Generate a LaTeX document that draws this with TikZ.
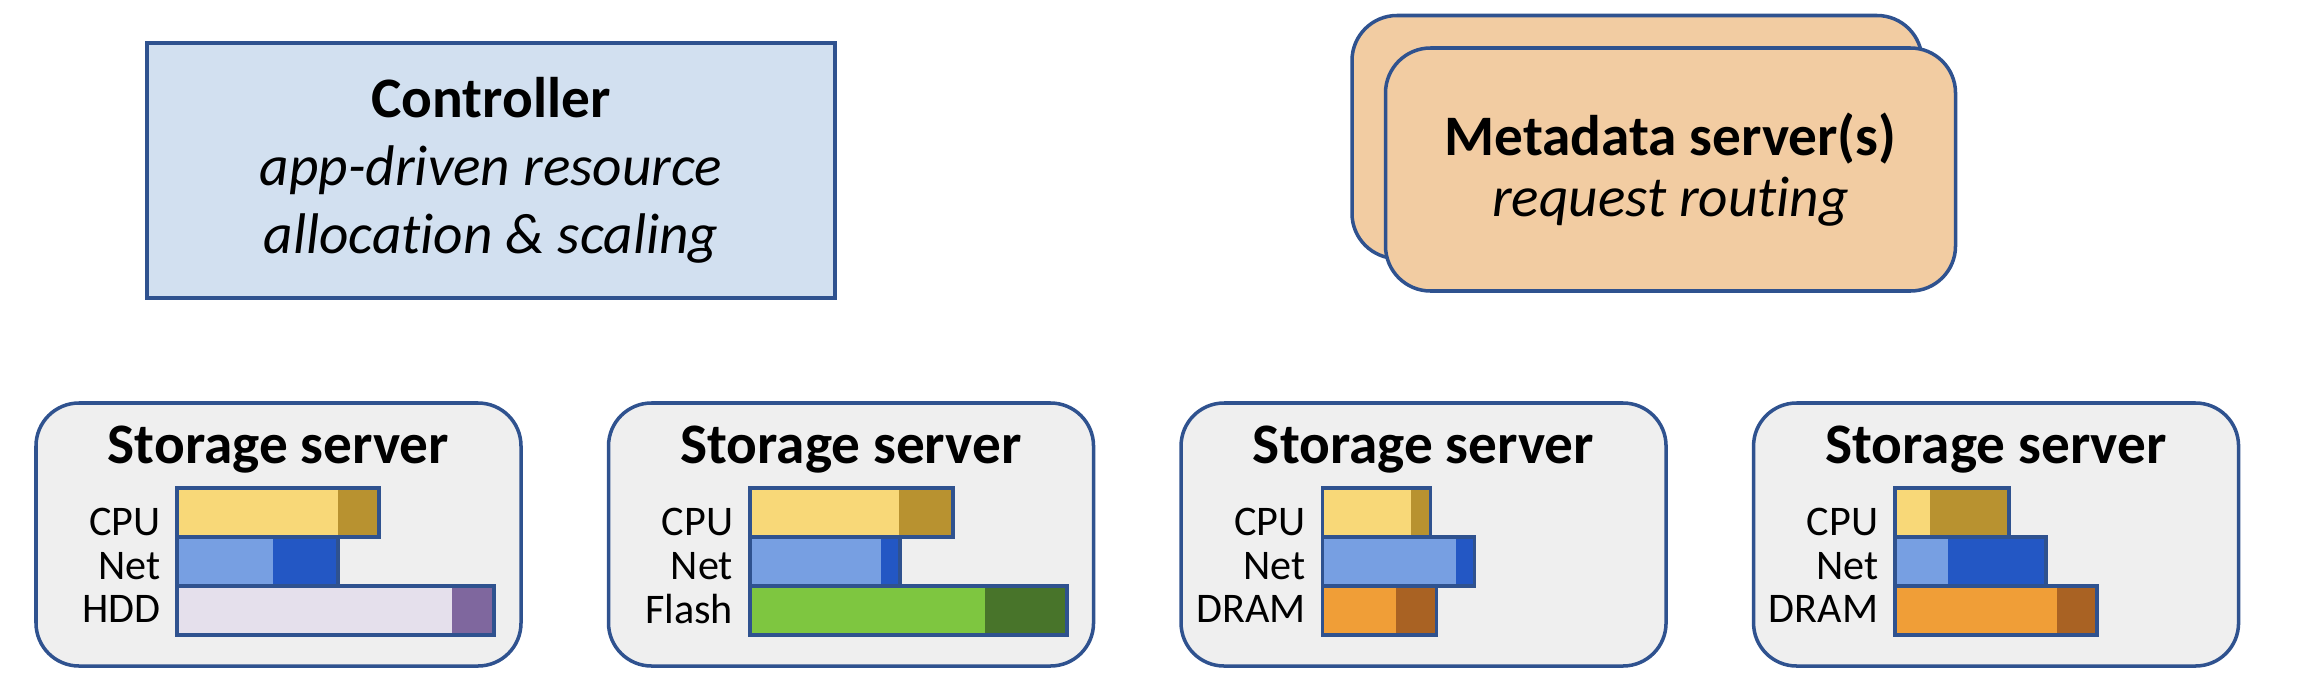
\documentclass[tikz,border=0pt]{standalone}
\usepackage{fontspec}
\setmainfont{Carlito}[Ligatures=NoCommon]
\usepackage{tikz}
\usetikzlibrary{positioning}
\definecolor{borderblue}{RGB}{47,82,143}
\definecolor{ctrlblue}{RGB}{210,224,240}
\definecolor{metapeach}{RGB}{242,204,162}
\definecolor{srvgray}{RGB}{239,239,239}
\definecolor{cpulight}{RGB}{248,216,120}
\definecolor{cpudark}{RGB}{184,146,48}
\definecolor{netlight}{RGB}{119,159,226}
\definecolor{netdark}{RGB}{35,87,196}
\definecolor{hddlight}{RGB}{229,224,236}
\definecolor{hdddark}{RGB}{127,103,158}
\definecolor{flashlight}{RGB}{126,198,64}
\definecolor{flashdark}{RGB}{72,116,42}
\definecolor{dramlight}{RGB}{240,158,55}
\definecolor{dramdark}{RGB}{169,98,35}

\begin{document}
\begin{tikzpicture}[
    node distance=0.84cm,
    every node/.style={font=\fontsize{16.3}{19.4}\selectfont},
    ctrlbox/.style={
        rectangle,
        draw=borderblue,
        line width=1pt,
        fill=ctrlblue,
        align=center,
        inner sep=0pt,
        minimum width=6.88cm,
        minimum height=2.55cm
    },
    metabox/.style={
        rectangle,
        rounded corners=0.45cm,
        draw=borderblue,
        line width=1pt,
        fill=metapeach,
        align=center,
        inner sep=0pt,
        minimum width=5.7cm,
        minimum height=2.43cm,
        font=\fontsize{16.3}{17.2}\selectfont
    },
    srvbox/.style={
        rectangle,
        rounded corners=0.43cm,
        draw=borderblue,
        line width=1pt,
        fill=srvgray,
        minimum width=4.85cm,
        minimum height=2.63cm
    },
    srvtitle/.style={anchor=base, font=\fontsize{16.3}{19.4}\selectfont\bfseries},
    barlabel/.style={anchor=east, inner sep=0pt, font=\fontsize{12}{13}\selectfont},
    resbar/.style n args={3}{
        rectangle,
        draw=borderblue,
        line width=1pt,
        fill=#1,
        inner sep=0pt,
        outer sep=0pt,
        minimum height=0.49cm,
        anchor=north west,
        path picture={\fill[#2] ([xshift=-#3 cm]path picture bounding box.north east) rectangle (path picture bounding box.south east);}
    }
]
\useasboundingbox (0,0) rectangle (23.1,6.92);

% top row
\node[ctrlbox] (ctrl) at (4.91,5.215) {\textbf{Controller}\\\textit{app-driven resource}\\\textit{allocation \& scaling}};
\node[metabox] (mdback) at (16.37,5.55) {};
\node[metabox] (md) at (16.705,5.225) {\textbf{Metadata server(s)}\\\textit{request routing}};

% storage servers
\node[srvbox] (srv1) at (2.785,1.575) {};
\node[srvbox, right=of srv1] (srv2) {};
\node[srvbox, right=of srv2] (srv3) {};
\node[srvbox, right=of srv3] (srv4) {};

\node[srvtitle] (title1) at ([yshift=-0.62cm]srv1.north) {Storage server};
\node[srvtitle] (title2) at ([yshift=-0.62cm]srv2.north) {Storage server};
\node[srvtitle] (title3) at ([yshift=-0.62cm]srv3.north) {Storage server};
\node[srvtitle] (title4) at ([yshift=-0.62cm]srv4.north) {Storage server};

% server 1: HDD
\node[resbar={cpulight}{cpudark}{0.41}, minimum width=2.02cm] (cpu1) at ([shift={(1.43,-0.87)}]srv1.north west) {};
\node[resbar={netlight}{netdark}{0.65}, minimum width=1.61cm] (net1) at (cpu1.south west) {};
\node[resbar={hddlight}{hdddark}{0.42}, minimum width=3.17cm] (disk1) at (net1.south west) {};
\node[barlabel, left=0.16cm of cpu1, yshift=-0.09cm] (cpulab1) {CPU};
\node[barlabel, left=0.16cm of net1, yshift=-0.04cm] (netlab1) {Net};
\node[barlabel, left=0.16cm of disk1, yshift=0.02cm] (disklab1) {HDD};

% server 2: Flash
\node[resbar={cpulight}{cpudark}{0.54}, minimum width=2.03cm] (cpu2) at ([shift={(1.43,-0.87)}]srv2.north west) {};
\node[resbar={netlight}{netdark}{0.19}, minimum width=1.50cm] (net2) at (cpu2.south west) {};
\node[resbar={flashlight}{flashdark}{0.82}, minimum width=3.17cm] (disk2) at (net2.south west) {};
\node[barlabel, left=0.16cm of cpu2, yshift=-0.09cm] (cpulab2) {CPU};
\node[barlabel, left=0.16cm of net2, yshift=-0.04cm] (netlab2) {Net};
\node[barlabel, left=0.16cm of disk2, yshift=0.02cm] (disklab2) {Flash};

% server 3: DRAM
\node[resbar={cpulight}{cpudark}{0.19}, minimum width=1.08cm] (cpu3) at ([shift={(1.43,-0.87)}]srv3.north west) {};
\node[resbar={netlight}{netdark}{0.18}, minimum width=1.52cm] (net3) at (cpu3.south west) {};
\node[resbar={dramlight}{dramdark}{0.40}, minimum width=1.14cm] (disk3) at (net3.south west) {};
\node[barlabel, left=0.16cm of cpu3, yshift=-0.09cm] (cpulab3) {CPU};
\node[barlabel, left=0.16cm of net3, yshift=-0.04cm] (netlab3) {Net};
\node[barlabel, left=0.16cm of disk3, yshift=0.02cm] (disklab3) {DRAM};

% server 4: DRAM
\node[resbar={cpulight}{cpudark}{0.79}, minimum width=1.14cm] (cpu4) at ([shift={(1.43,-0.87)}]srv4.north west) {};
\node[resbar={netlight}{netdark}{0.98}, minimum width=1.51cm] (net4) at (cpu4.south west) {};
\node[resbar={dramlight}{dramdark}{0.40}, minimum width=2.02cm] (disk4) at (net4.south west) {};
\node[barlabel, left=0.16cm of cpu4, yshift=-0.09cm] (cpulab4) {CPU};
\node[barlabel, left=0.16cm of net4, yshift=-0.04cm] (netlab4) {Net};
\node[barlabel, left=0.16cm of disk4, yshift=0.02cm] (disklab4) {DRAM};

\end{tikzpicture}
\end{document}
